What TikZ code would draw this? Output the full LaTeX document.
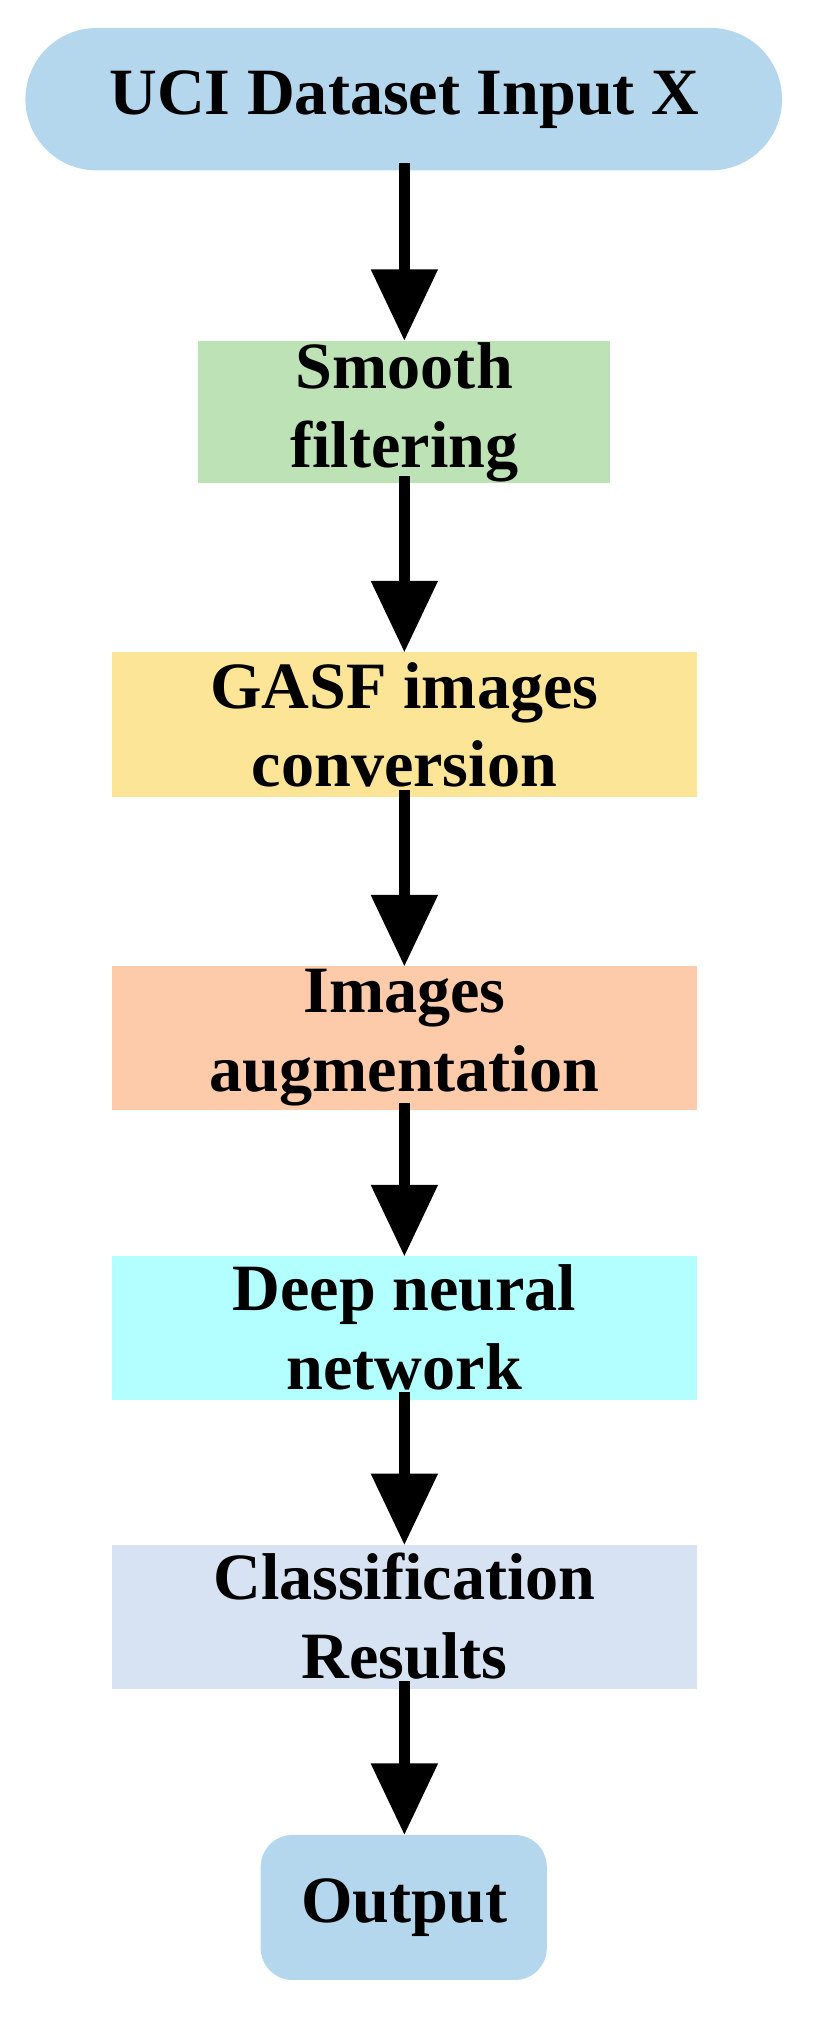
\documentclass[tikz,border=0pt]{standalone}
\usepackage{fontspec}
\setmainfont{Liberation Serif}
\usetikzlibrary{arrows.meta}
\definecolor{cblue}{HTML}{B4D7EE}
\definecolor{cgreen}{HTML}{BDE2B5}
\definecolor{cyellow}{HTML}{FDE598}
\definecolor{corange}{HTML}{FDCBA9}
\definecolor{ccyan}{HTML}{B3FFFF}
\definecolor{clav}{HTML}{D7E2F2}
\begin{document}
\begin{tikzpicture}[x=0.025cm,y=-0.025cm,
  boxtext/.style={font=\fontsize{37}{44}\selectfont\bfseries,align=center},
  flow/.style={line width=6pt,-{Triangle[width=36pt,length=40pt]}}]
\useasboundingbox (0,0) rectangle (640,1594);
\fill[cblue,rounded corners=56*0.025cm] (20,22) rectangle (615,134);
\node[boxtext] (in) at (318,78) {UCI Dataset Input X};
\fill[cgreen] (156,268) rectangle (480,380);
\node[boxtext] (s) at (318,324) {Smooth\\filtering};
\fill[cyellow] (88,513) rectangle (548,627);
\node[boxtext] (g) at (318,570) {GASF images\\conversion};
\fill[corange] (88,760) rectangle (548,873);
\node[boxtext] (a) at (318,816) {Images\\augmentation};
\fill[ccyan] (88,988) rectangle (548,1101);
\node[boxtext] (d) at (318,1044) {Deep neural\\network};
\fill[clav] (88,1215) rectangle (548,1328);
\node[boxtext] (c) at (318,1271) {Classification\\Results};
\fill[cblue,rounded corners=25*0.025cm] (205,1443) rectangle (430,1557);
\node[boxtext] (o) at (318,1500) {Output};
\coordinate (p0) at (318,128); \coordinate (q0) at (318,268);
\coordinate (p1) at (318,374); \coordinate (q1) at (318,513);
\coordinate (p2) at (318,621); \coordinate (q2) at (318,760);
\coordinate (p3) at (318,867); \coordinate (q3) at (318,988);
\coordinate (p4) at (318,1095); \coordinate (q4) at (318,1215);
\coordinate (p5) at (318,1322); \coordinate (q5) at (318,1443);
\foreach \i in {0,...,5} \draw[flow] (p\i) -- (q\i);
\end{tikzpicture}
\end{document}
